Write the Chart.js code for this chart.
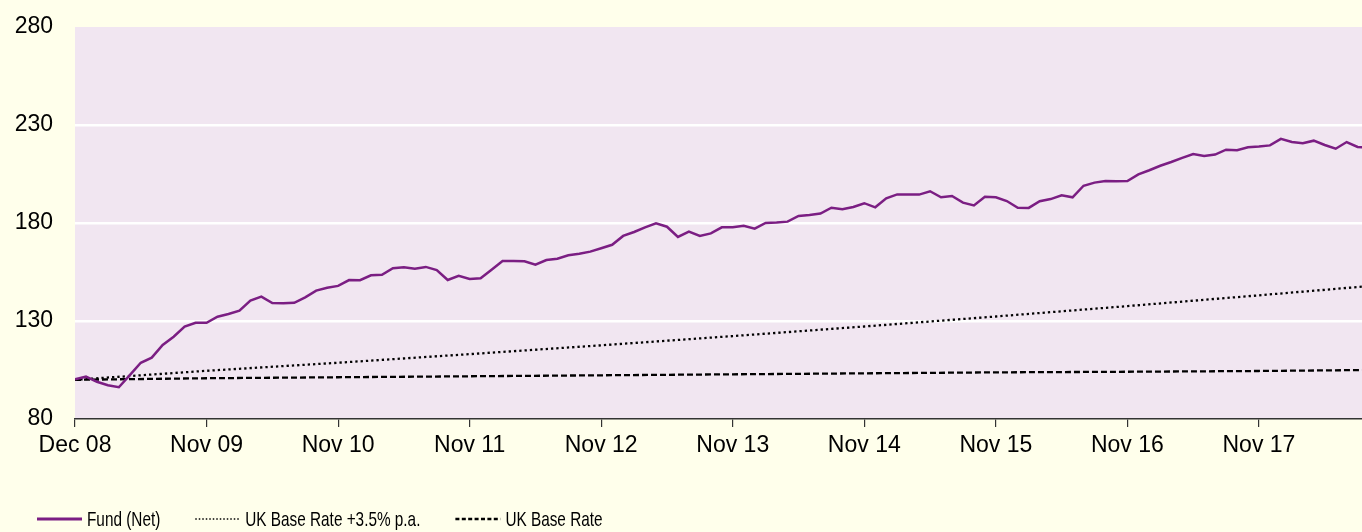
<!DOCTYPE html>
<html>
<head>
<meta charset="utf-8">
<script src="https://cdn.jsdelivr.net/npm/chart.js@4/dist/chart.umd.min.js"></script>
<style>
  html, body { margin: 0; padding: 0; background: #ffffeb; }
  .wrap { width: 1362px; height: 532px; position: relative; }
</style>
</head>
<body>
<div class="wrap"><canvas id="chart"></canvas></div>
<script>
// ── Data (monthly, index 0 = Dec 08) ───────────────────────────────────────
const tickLabels = ['Dec 08', 'Nov 09', 'Nov 10', 'Nov 11', 'Nov 12', 'Nov 13', 'Nov 14', 'Nov 15', 'Nov 16', 'Nov 17'];

const fundNet = [
  100.3, 101.6, 99.0, 97.2, 96.2, 102.4, 108.7, 111.3, 117.8, 122.0, 127.1, 129.1,
  129.1, 132.2, 133.6, 135.3, 140.4, 142.4, 139.2, 139.0, 139.3, 142.1, 145.5, 147.0,
  147.9, 150.9, 150.8, 153.3, 153.6, 156.9, 157.4, 156.7, 157.6, 156.0, 150.9, 153.0,
  151.4, 151.8, 156.2, 160.6, 160.6, 160.5, 158.7, 161.1, 161.8, 163.5, 164.3, 165.4,
  167.1, 168.9, 173.4, 175.4, 177.8, 179.8, 178.1, 172.9, 175.6, 173.4, 174.7, 177.8,
  177.8, 178.6, 177.1, 180.0, 180.2, 180.7, 183.6, 184.1, 184.8, 187.8, 187.0, 188.2,
  190.1, 188.0, 192.6, 194.6, 194.6, 194.5, 196.2, 193.1, 193.8, 190.4, 189.0, 193.4,
  193.1, 191.2, 187.8, 187.7, 191.1, 192.2, 194.1, 193.1, 199.0, 200.6, 201.4, 201.3,
  201.4, 204.8, 206.9, 209.2, 211.1, 213.2, 215.2, 214.2, 214.9, 217.4, 217.1, 218.6,
  219.0, 219.6, 222.9, 221.3, 220.7, 222.0, 219.8, 217.9, 221.3, 218.8, 218.4
];

const benchMonths  = [0, 12, 24, 36, 48, 60, 72, 84, 96, 108, 118];
const basePlus35   = [100, 104.6, 108.7, 113.1, 117.6, 122.3, 127.2, 132.3, 137.6, 143.1, 147.8];
const baseRate     = [100, 100.8, 101.3, 101.8, 102.3, 102.8, 103.3, 103.8, 104.1, 104.5, 105.0];

const xMax = 117.4;

// ── Plot background ──────────────────────────────────────────────────────
const plotBg = {
  id: 'plotBg',
  beforeDraw(chart) {
    const { ctx, chartArea: a } = chart;
    ctx.save();
    ctx.fillStyle = '#f1e6f1';
    ctx.fillRect(a.left, a.top, a.right - a.left, a.bottom - a.top);
    ctx.restore();
  }
};

// ── Bottom legend (condensed text, dashed samples) ─────────────────────────
const bottomLegend = {
  id: 'bottomLegend',
  afterDraw(chart, args, opts) {
    const { ctx } = chart;
    const y = chart.height - opts.offsetBottom;
    let x = opts.startX;
    ctx.save();
    ctx.font = `${opts.fontSize}px 'Liberation Sans', Arial, sans-serif`;
    ctx.textBaseline = 'middle';
    ctx.fillStyle = '#000';
    chart.data.datasets.forEach(ds => {
      ctx.beginPath();
      ctx.setLineDash(ds.legendDash || []);
      ctx.lineWidth = ds.legendWidth || ds.borderWidth;
      ctx.strokeStyle = ds.borderColor;
      ctx.moveTo(x, y);
      ctx.lineTo(x + opts.sampleWidth, y);
      ctx.stroke();
      ctx.setLineDash([]);
      const tx = x + opts.sampleWidth + opts.textGap;
      const w = ctx.measureText(ds.label).width * opts.scaleX;
      ctx.save();
      ctx.translate(tx, y);
      ctx.scale(opts.scaleX, 1);
      ctx.fillText(ds.label, 0, 1);
      ctx.restore();
      x = tx + w + opts.itemGap;
    });
    ctx.restore();
  }
};

const toXY = (xs, ys) => ys.map((y, i) => ({ x: xs[i], y }));

new Chart(document.getElementById('chart'), {
  type: 'line',
  data: {
    datasets: [
      {
        label: 'Fund (Net)',
        data: fundNet.map((y, i) => ({ x: i, y })),
        borderColor: '#7b1e83',
        borderWidth: 2.5,
        legendWidth: 3,
        pointRadius: 0,
        tension: 0
      },
      {
        label: 'UK Base Rate +3.5% p.a.',
        data: toXY(benchMonths, basePlus35),
        borderColor: '#000',
        borderWidth: 2.3,
        borderDash: [2.3, 3],
        legendDash: [1.5, 2],
        legendWidth: 1.5,
        pointRadius: 0,
        tension: 0
      },
      {
        label: 'UK Base Rate',
        data: toXY(benchMonths, baseRate),
        borderColor: '#000',
        borderWidth: 2.3,
        borderDash: [6, 3],
        legendDash: [4, 2.4],
        legendWidth: 2.5,
        pointRadius: 0,
        tension: 0
      }
    ]
  },
  options: {
    responsive: true,
    maintainAspectRatio: false,
    animation: false,
    layout: { padding: { top: 27, right: 0, left: 0, bottom: 58 } },
    plugins: {
      tooltip: { enabled: false },
      legend: { display: false },
      bottomLegend: { startX: 37, offsetBottom: 13, sampleWidth: 45, textGap: 5, itemGap: 35, fontSize: 21, scaleX: 0.73 }
    },
    scales: {
      x: {
        type: 'linear',
        min: 0,
        max: xMax,
        afterFit: s => { s.height = 55; },
        grid: { drawOnChartArea: false, drawTicks: true, tickLength: 8, color: '#333', lineWidth: 1.2 },
        border: { display: true, color: '#333', width: 1.5 },
        ticks: {
          stepSize: 12,
          includeBounds: false,
          autoSkip: false,
          maxRotation: 0,
          padding: 5,
          color: '#000',
          font: { family: "'Liberation Sans', Arial, sans-serif", size: 23 },
          callback: v => tickLabels[v / 12]
        }
      },
      y: {
        min: 80,
        max: 280,
        afterFit: s => { s.width = 75; },
        grid: {
          drawTicks: true,
          tickLength: 22,
          tickColor: 'rgba(0,0,0,0)',
          lineWidth: 2.5,
          color: c => (c.tick && c.tick.value > 80 && c.tick.value < 280) ? '#ffffff' : 'rgba(0,0,0,0)'
        },
        border: { display: false },
        ticks: {
          stepSize: 50,
          padding: 0,
          color: '#000',
          font: { family: "'Liberation Sans', Arial, sans-serif", size: 23 }
        }
      }
    }
  },
  plugins: [plotBg, bottomLegend]
});
</script>
</body>
</html>
